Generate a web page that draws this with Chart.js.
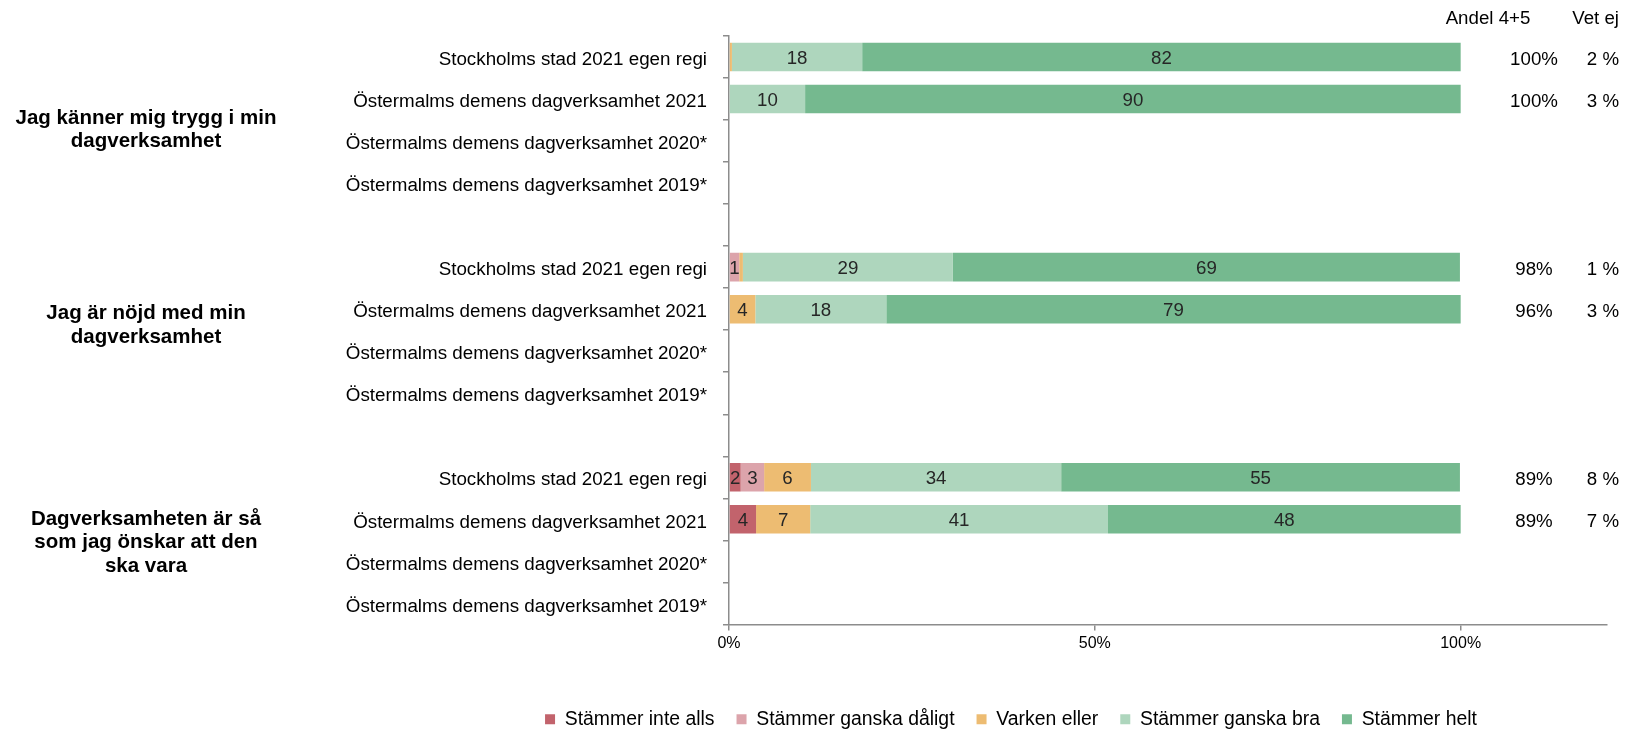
<!DOCTYPE html>
<html>
<head>
<meta charset="utf-8">
<script src="https://cdn.jsdelivr.net/npm/chart.js@4.4.1/dist/chart.umd.min.js"></script>
<style>
  html, body { margin: 0; padding: 0; background: #fff; }
  canvas { display: block; }
</style>
</head>
<body>
<canvas id="chart" width="1632" height="729"></canvas>
<script>
// Kategorier – en tom rad mellan varje fråga
const rowLabels = [
  'Stockholms stad 2021 egen regi', 'Östermalms demens dagverksamhet 2021',
  'Östermalms demens dagverksamhet 2020*', 'Östermalms demens dagverksamhet 2019*', '',
  'Stockholms stad 2021 egen regi', 'Östermalms demens dagverksamhet 2021',
  'Östermalms demens dagverksamhet 2020*', 'Östermalms demens dagverksamhet 2019*', '',
  'Stockholms stad 2021 egen regi', 'Östermalms demens dagverksamhet 2021',
  'Östermalms demens dagverksamhet 2020*', 'Östermalms demens dagverksamhet 2019*'
];
const questions = [
  ['Jag känner mig trygg i min', 'dagverksamhet'],
  ['Jag är nöjd med min', 'dagverksamhet'],
  ['Dagverksamheten är så', 'som jag önskar att den', 'ska vara']
];
const questionRows = [[0, 3], [5, 8], [10, 13]];

const seriesNames = ['Stämmer inte alls', 'Stämmer ganska dåligt', 'Varken eller', 'Stämmer ganska bra', 'Stämmer helt'];
const inteAlls  = [0, 0, null, null, null, 0, 0, null, null, null, 1.6, 3.7, null, null];
const ganskaDal = [0, 0, null, null, null, 1.4, 0, null, null, null, 3.2, 0, null, null];
const varken    = [0.4, 0, null, null, null, 0.5, 3.6, null, null, null, 6.4, 7.4, null, null];
const ganskaBra = [17.8, 10.4, null, null, null, 28.7, 17.9, null, null, null, 34.2, 40.7, null, null];
const helt      = [81.8, 89.6, null, null, null, 69.3, 78.5, null, null, null, 54.5, 48.2, null, null];

const andel45 = ['100%', '100%', '', '', '', '98%', '96%', '', '', '', '89%', '89%', '', ''];
const vetEj   = ['2 %', '3 %', '', '', '', '1 %', '3 %', '', '', '', '8 %', '7 %', '', ''];
const xTicks = [0, 50, 100];

const colors = ['#c2636c', '#dca4ab', '#edbc72', '#aed6bd', '#75b98f'];
const axisColor = '#8c8c8c';
const FONT = '"Liberation Sans", Arial, sans-serif';

Chart.defaults.font.family = FONT;
Chart.defaults.color = '#000';

// siffror i staplarna
const barLabels = {
  id: 'barLabels',
  afterDatasetsDraw(chart) {
    const ctx = chart.ctx;
    ctx.save();
    ctx.font = '18.7px ' + FONT;
    ctx.fillStyle = '#262626';
    ctx.textAlign = 'center';
    ctx.textBaseline = 'middle';
    chart.data.datasets.forEach((ds, i) => {
      chart.getDatasetMeta(i).data.forEach((bar, j) => {
        const v = ds.data[j];
        if (v == null || v < 1) return;
        ctx.fillText(Math.round(v), (bar.x + bar.base) / 2, bar.y + 2);
      });
    });
    ctx.restore();
  }
};

// frågetexter till vänster, kolumnerna till höger, förskjuten legend
const sideTexts = {
  id: 'sideTexts',
  afterLayout(chart) {
    const lg = chart.legend;
    const dx = 1011 - (lg.left + lg.right) / 2;
    lg.left += dx; lg.right += dx;
    lg.top += 30; lg.bottom += 30;
  },
  afterDraw(chart) {
    const ctx = chart.ctx;
    const y = chart.scales.y;
    ctx.save();
    ctx.fillStyle = '#000';
    ctx.textBaseline = 'middle';

    ctx.font = 'bold 20.5px ' + FONT;
    ctx.textAlign = 'center';
    const nudge = [10, -5, 2.5];
    questions.forEach((lines, q) => {
      const [a, b] = questionRows[q];
      const mid = (y.getPixelForValue(a) + y.getPixelForValue(b)) / 2 + nudge[q];
      const lh = 23.5;
      lines.forEach((t, k) => {
        ctx.fillText(t, 146, mid + (k - (lines.length - 1) / 2) * lh);
      });
    });

    ctx.font = '18.7px ' + FONT;
    ctx.fillText('Andel 4+5', 1488, 19);
    ctx.textAlign = 'right';
    ctx.fillText('Vet ej', 1619, 19);
    rowLabels.forEach((_, i) => {
      const py = y.getPixelForValue(i) + 3;
      ctx.textAlign = 'center';
      if (andel45[i]) ctx.fillText(andel45[i], 1534, py);
      ctx.textAlign = 'right';
      if (vetEj[i]) ctx.fillText(vetEj[i], 1619, py);
    });
    ctx.restore();
  }
};

const seriesData = [inteAlls, ganskaDal, varken, ganskaBra, helt];

new Chart(document.getElementById('chart'), {
  type: 'bar',
  data: {
    labels: rowLabels,
    datasets: seriesNames.map((name, i) => ({
      label: name,
      data: seriesData[i],
      backgroundColor: colors[i],
      borderWidth: 0,
      barPercentage: 0.68,
      categoryPercentage: 1
    }))
  },
  options: {
    indexAxis: 'y',
    responsive: false,
    animation: false,
    layout: { padding: { top: 36, right: 25, left: 0, bottom: 20 } },
    scales: {
      x: {
        stacked: true,
        min: 0,
        max: 120,
        afterBuildTicks: s => { s.ticks = xTicks.map(v => ({ value: v })); },
        grid: { drawOnChartArea: false, drawTicks: true, tickLength: 6, color: axisColor, lineWidth: 1.5 },
        border: { color: axisColor, width: 1.5 },
        ticks: { callback: v => v + '%', font: { size: 16 }, padding: 4, maxRotation: 0 }
      },
      y: {
        stacked: true,
        afterFit: s => { s.width = 729; },
        grid: { drawOnChartArea: false, offset: true, tickLength: 6, color: axisColor, lineWidth: 1.5 },
        border: { color: axisColor, width: 1.5 },
        ticks: { font: { size: 18.8 }, padding: 16, autoSkip: false, labelOffset: 3 }
      }
    },
    plugins: {
      legend: {
        position: 'bottom',
        labels: { boxWidth: 10, boxHeight: 10, padding: 22, font: { size: 19.4 } }
      },
      tooltip: { enabled: false }
    }
  },
  plugins: [barLabels, sideTexts]
});
</script>
</body>
</html>
